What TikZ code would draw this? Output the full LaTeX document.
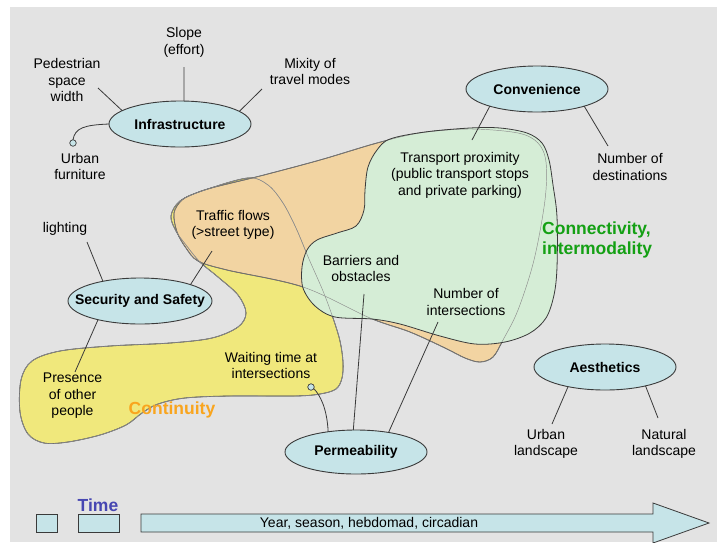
\documentclass[tikz,border=0pt]{standalone}
\usepackage{fontspec}
\setmainfont{Liberation Sans}
\usetikzlibrary{shapes.geometric,calc}
\definecolor{bg}{HTML}{E3E3E3}
\definecolor{cyanfill}{HTML}{C6E4E8}
\definecolor{edge}{HTML}{3A3A3A}
\definecolor{yel}{HTML}{F0E87C}
\definecolor{ora}{HTML}{F2D4A2}
\definecolor{grn}{HTML}{D5EDD6}
\definecolor{conttxt}{HTML}{F9A51E}
\definecolor{conntxt}{HTML}{14A014}
\definecolor{timetxt}{HTML}{4747B2}
\tikzset{
  lbl/.style={align=center, font=\fontsize{14}{16.5}\selectfont, inner sep=0pt},
  ell/.style={ellipse, draw=edge, fill=cyanfill, line width=0.9pt, minimum width=142pt, minimum height=46pt, inner sep=0pt, outer sep=0pt, font=\fontsize{14}{16}\selectfont\bfseries},
  conn/.style={draw=edge, line width=0.8pt},
  blob/.style={draw=edge, line width=0.8pt},
  hid/.style={draw=black!45, line width=0.45pt},
  dot/.style={circle, draw=edge, fill=cyanfill, line width=0.7pt, minimum size=6.5pt, inner sep=0pt, outer sep=0pt},
  tbox/.style={draw=edge, fill=cyanfill, line width=0.8pt},
  big/.style={font=\fontsize{17.5}{20}\selectfont\bfseries, inner sep=0pt}
}
\def\yelP{plot[smooth cycle, tension=0.55] coordinates {(171,216) (180,201) (205,190) (248,178) (268,185) (283,203) (296,228) (309,259) (323,291) (333,318) (340,341) (343,362) (342,378) (336,389) (320,394) (295,396) (230,396) (185,398) (158,404) (142,413) (126,425) (100,435) (68,442) (44,443) (28,434) (20,412) (21,380) (32,361) (60,351) (110,346) (170,343) (212,338) (238,327) (246,313) (238,295) (218,277) (200,262) (186,245) (176,231)}}
\def\oraP{plot[smooth cycle, tension=0.55] coordinates {(174,213) (182,200) (196,193) (215,187) (260,176) (320,160) (377,143) (420,133) (470,129) (518,133) (538,143) (546,162) (545,200) (534,260) (518,310) (503,340) (493,357) (480,362) (465,358) (445,348) (410,332) (370,318) (303,287) (227,270) (198,261) (186,248) (177,232)}}
\def\grnP{plot[smooth cycle, tension=0.55] coordinates {(390,139) (425,132) (470,128) (500,128) (527,133) (542,143) (549,160) (553,185) (557,217) (557,267) (554,295) (546,318) (530,333) (505,342) (475,344) (440,336) (400,324) (372,319) (335,317) (315,306) (303,288) (302,267) (307,250) (317,240) (337,233) (356,226) (364,210) (365,190) (368,167) (377,150)}}
\begin{document}
\begin{tikzpicture}[x=1pt,y=-1pt]
\useasboundingbox (0,0) rectangle (717,542);
\clip (0,0) rectangle (717,542);
\fill[white] (0,0) rectangle (717,542);
\fill[bg] (10,7) rectangle (717,542);

% blobs
\fill[yel] \yelP;
\draw[blob] \yelP;
\fill[ora] \oraP;
\draw[hid] \yelP;
\draw[blob] \oraP;
\fill[grn] \grnP;
\draw[hid] \yelP;
\draw[hid] \oraP;
\draw[blob] \grnP;

% ellipses
\node[ell] (infra) at (180,124) {\makebox[0pt]{Infrastructure}};
\node[ell] (conv) at (537,89) {\makebox[0pt]{Convenience}};
\node[ell, minimum width=144pt] (sec) at (140,301) {\makebox[0pt]{Security and Safety}};
\node[ell] (aes) at (605,367) {\makebox[0pt]{Aesthetics}};
\node[ell, minimum height=44pt] (perm) at (356,452) {\makebox[0pt]{Permeability}};

% labels
\node[lbl] (slope) at (184,42.5) {Slope\\(effort)};
\node[lbl] (ped) at (67,80) {Pedestrian\\space\\width};
\node[lbl] (mix) at (310,71.5) {Mixity of\\travel modes};
\node[lbl] (furn) at (80,166.5) {Urban\\furniture};
\node[lbl] (dest) at (630,167) {Number of\\destinations};
\node[lbl] (transp) at (460,175) {Transport proximity\\(public transport stops\\and private parking)};
\node[big, text=conntxt, align=left, anchor=west] (connect) at (542,240) {Connectivity,\\intermodality};
\node[lbl] (light) at (65,229) {lighting};
\node[lbl] (traffic) at (233,225) {Traffic flows\\(>street type)};
\node[lbl] (pres) at (72.5,396) {Presence\\of other\\people};
\node[big, text=conttxt] (contin) at (172,410) {Continuity};
\node[lbl] (wait) at (271,365.5) {Waiting time at\\intersections};
\node[lbl] (barr) at (361,268.5) {Barriers and\\obstacles};
\node[lbl] (ninter) at (466,302) {Number of\\intersections};
\node[lbl] (urbl) at (546,444) {Urban\\landscape};
\node[lbl] (natl) at (664,444) {Natural\\landscape};

% connector end coordinates near labels
\coordinate (slopeE) at (184,67);
\coordinate (pedE) at (98,88);
\coordinate (mixE) at (262,89);
\coordinate (transpE) at (472,140);
\coordinate (destE) at (608,146);
\coordinate (lightE) at (87,242);
\coordinate (trafE) at (212,251);
\coordinate (presE) at (75,372);
\coordinate (barrE) at (364,294);
\coordinate (interE) at (438,322);
\coordinate (urblE) at (552,424);
\coordinate (natlE) at (658,418);

\draw[conn] (slopeE) -- (infra.80);
\draw[conn] (pedE) -- (infra.167);
\draw[conn] (mixE) -- (infra.12);
\node[dot] (ufdot) at (73,143) {};
\draw[conn] (ufdot.north) .. controls (75,128) and (84,125) .. (infra.west);
\draw[conn] (conv.200) -- (transpE);
\draw[conn] (conv.-20) -- (destE);
\draw[conn] (lightE) -- (sec.152);
\draw[conn] (trafE) -- (sec.18);
\draw[conn] (sec.204) -- (presE);
\node[dot] (wtdot) at (311,387) {};
\draw[conn] (wtdot.-30) .. controls (320,395) and (327,408) .. (perm.144);
\draw[conn] (barrE) -- (perm.97);
\draw[conn] (interE) -- (perm.31);
\draw[conn] (aes.208) -- (urblE);
\draw[conn] (aes.-25) -- (natlE);

% time
\node[big, text=timetxt] (time) at (98,505) {Time};
\draw[tbox] (36,514) rectangle (57,532);
\draw[tbox] (78,514) rectangle (119,532);
\draw[tbox] (141,514) -- (653,514) -- (653,503) -- (709,523) -- (653,543) -- (653,532) -- (141,532) -- cycle;
\node[lbl, font=\fontsize{14}{16}\selectfont] (year) at (369,523) {Year, season, hebdomad, circadian};
\end{tikzpicture}
\end{document}
